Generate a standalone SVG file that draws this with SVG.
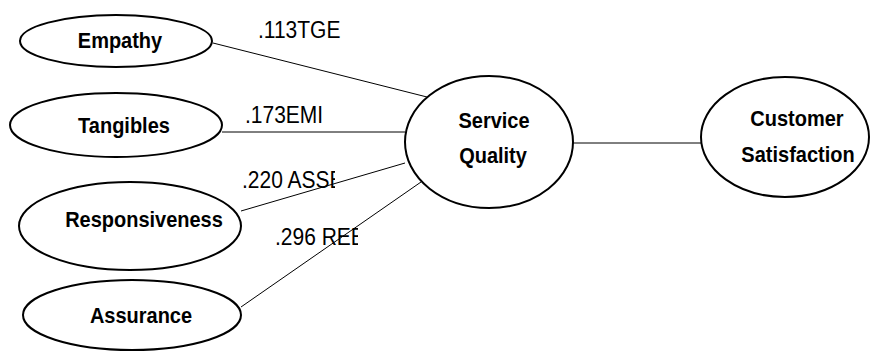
<svg xmlns="http://www.w3.org/2000/svg" width="870" height="351" viewBox="0 0 870 351">
<style>
.node ellipse{fill:#fff;stroke:#000;stroke-width:2}
.node text{font-family:"Liberation Sans",Arial,sans-serif;font-weight:bold;font-size:20px;text-anchor:middle;fill:#000}
.conn line{stroke:#000;stroke-width:1}
.lbl{font-family:"Liberation Sans",Arial,sans-serif;font-size:21px;fill:#000}
</style>
<defs>
<clipPath id="c1"><rect x="240" y="0" width="103" height="50"/></clipPath>
<clipPath id="c2"><rect x="230" y="95" width="97" height="40"/></clipPath>
<clipPath id="c3"><rect x="230" y="160" width="105" height="40"/></clipPath>
<clipPath id="c4"><rect x="260" y="220" width="98" height="40"/></clipPath>
</defs>
<rect width="870" height="351" fill="#fff"/>
<g id="connectors" class="conn">
<line x1="213" y1="43" x2="427" y2="97"/>
<line x1="222" y1="132" x2="405" y2="132"/>
<line x1="241" y1="211" x2="405" y2="163"/>
<line x1="241" y1="307" x2="421" y2="182"/>
<line x1="573" y1="143" x2="701" y2="143"/>
</g>
<g id="labels">
<g clip-path="url(#c1)"><text class="lbl" transform="translate(258 38) scale(1 1.1)">.113TGE</text></g>
<g clip-path="url(#c2)"><text class="lbl" transform="translate(245 123) scale(1 1.1)">.173EMI</text></g>
<g clip-path="url(#c3)"><text class="lbl" transform="translate(242 188) scale(1 1.1)">.220 ASSE</text></g>
<g clip-path="url(#c4)"><text class="lbl" transform="translate(275 245) scale(1 1.1)">.296 REE</text></g>
</g>
<g id="empathy" class="node"><ellipse cx="116" cy="41" rx="96" ry="26"/><text transform="translate(120 48) scale(1 1.08)">Empathy</text></g>
<g id="tangibles" class="node"><ellipse cx="116" cy="125" rx="106" ry="32"/><text transform="translate(124 133) scale(1 1.08)">Tangibles</text></g>
<g id="responsiveness" class="node"><ellipse cx="130" cy="226" rx="111" ry="44"/><text transform="translate(144 227) scale(1 1.08)">Responsiveness</text></g>
<g id="assurance" class="node"><ellipse cx="132" cy="315" rx="109" ry="35"/><text transform="translate(141 323) scale(1 1.08)">Assurance</text></g>
<g id="service-quality" class="node"><ellipse cx="489" cy="142" rx="84" ry="66"/><text transform="translate(494 128) scale(1 1.08)">Service</text><text transform="translate(493 163) scale(1 1.08)">Quality</text></g>
<g id="customer-satisfaction" class="node"><ellipse cx="785" cy="137" rx="84" ry="60"/><text transform="translate(797 126) scale(1 1.08)">Customer</text><text transform="translate(798 162) scale(1 1.08)">Satisfaction</text></g>
</svg>
